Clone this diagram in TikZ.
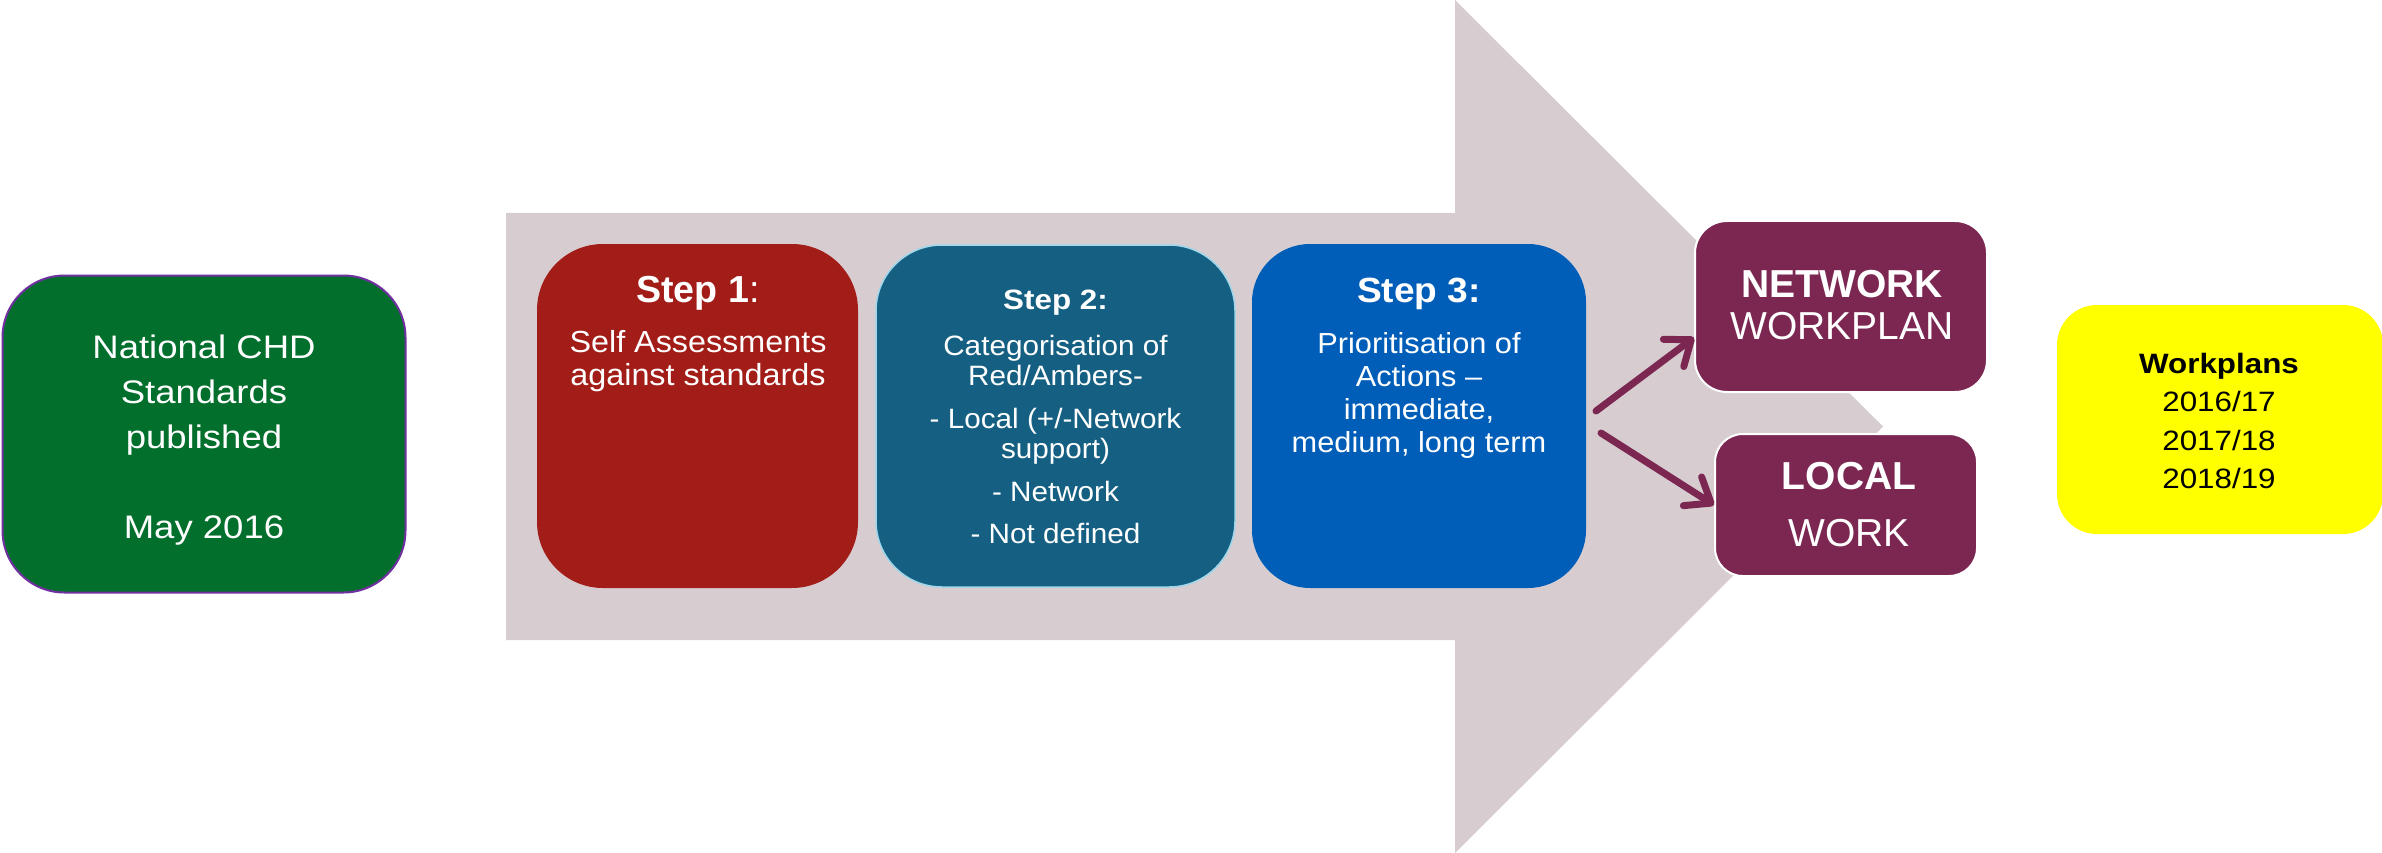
\documentclass[tikz,border=0pt]{standalone}
\usepackage{fontspec}
\setmainfont{Liberation Sans}
\newfontfamily\fwide[FakeStretch=1.12]{Liberation Sans}
\newfontfamily\fmid[FakeStretch=1.06]{Liberation Sans}
\newfontfamily\fstepb[FakeStretch=1.12]{Liberation Sans}
\usetikzlibrary{arrows.meta,calc}
\definecolor{arrowgray}{RGB}{215,205,209}
\definecolor{natgreen}{RGB}{3,111,44}
\definecolor{natborder}{RGB}{112,48,160}
\definecolor{stepred}{RGB}{162,29,23}
\definecolor{stepteal}{RGB}{21,96,130}
\definecolor{tealborder}{RGB}{160,214,234}
\definecolor{stepblue}{RGB}{0,94,184}
\definecolor{plum}{RGB}{123,39,82}
\definecolor{wpyellow}{RGB}{255,255,0}
\tikzset{
  boxnode/.style={inner sep=0pt, anchor=center},
  txt/.style={text=white, align=center, inner sep=0pt, anchor=north},
  conn/.style={draw=plum, line width=7pt, line cap=round,
    -{Straight Barb[length=22pt,width=34pt,round]}},
}
\begin{document}
\begin{tikzpicture}[x=1pt,y=-1pt]
\useasboundingbox (0,0) rectangle (2382,853);
% big arrow
\fill[arrowgray] (506,213) -- (1455,213) -- (1455,0) -- (1883,426.5) -- (1455,853) -- (1455,640) -- (506,640) -- cycle;
% national box
\node[boxnode, fill=natgreen, draw=natborder, line width=2pt, rounded corners=62pt,
  minimum width=403pt, minimum height=317pt] (nat) at (204,434) {};
\node[txt, font=\fwide\fontsize{32.6}{45}\selectfont] (natt) at (204,334.5)
  {National CHD\\Standards\\published\\[45pt]May 2016};
% step 1
\node[boxnode, fill=stepred, rounded corners=66pt,
  minimum width=321pt, minimum height=344pt] (s1) at (697.5,416) {};
\node[txt, font=\fontsize{37.6}{40}\selectfont] (s1t) at (698,276) {\textbf{Step 1}:};
\node[txt, font=\fmid\fontsize{30.5}{33}\selectfont] (s1b) at (698,330)
  {Self Assessments\\against standards};
% step 2
\node[boxnode, fill=stepteal, draw=tealborder, line width=1.5pt, rounded corners=66pt,
  minimum width=359pt, minimum height=342pt] (s2) at (1055.5,416) {};
\node[txt, font=\fstepb\bfseries\fontsize{28}{30}\selectfont] (s2t) at (1055.5,290) {Step 2:};
\node[txt, font=\fmid\fontsize{28}{30}\selectfont] (s2b) at (1055.5,334.7)
  {Categorisation of\\Red/Ambers-\\[13pt]- Local (+/-Network\\support)\\[13pt]- Network\\[12pt]- Not defined};
% step 3
\node[boxnode, fill=stepblue, rounded corners=58pt,
  minimum width=334pt, minimum height=344pt] (s3) at (1419,416) {};
\node[txt, font=\fmid\bfseries\fontsize{35}{38}\selectfont] (s3t) at (1419,278) {Step 3:};
\node[txt, font=\fmid\fontsize{29}{33}\selectfont] (s3b) at (1419,332)
  {Prioritisation of\\Actions –\\immediate,\\medium, long term};
% network box
\node[boxnode, fill=plum, draw=white, line width=2pt, rounded corners=32pt,
  minimum width=292pt, minimum height=171pt] (net) at (1841,306.5) {};
\node[txt, font=\fontsize{39}{42}\selectfont] (nett) at (1842,270)
  {\textbf{NETWORK}\\WORKPLAN};
% local box
\node[boxnode, fill=plum, draw=white, line width=2pt, rounded corners=28pt,
  minimum width=262pt, minimum height=142pt] (loc) at (1846,505) {};
\node[txt, font=\fontsize{39}{57}\selectfont] (loct) at (1849,462)
  {\textbf{LOCAL}\\WORK};
% workplans box
\node[boxnode, fill=wpyellow, rounded corners=40pt,
  minimum width=326pt, minimum height=229pt] (wp) at (2220,419.5) {};
\node[txt, text=black, font=\fwide\fontsize{28}{38.5}\selectfont] (wpt) at (2219,353)
  {\textbf{Workplans}\\2016/17\\2017/18\\2018/19};
% connectors
\coordinate (a1) at (1596,411);
\coordinate (a2) at (1601,433);
\draw[conn] (a1) -- ($(net.south west)!0.32!(net.north west)$);
\draw[conn] (a2) -- (loc.west);
\end{tikzpicture}
\end{document}
